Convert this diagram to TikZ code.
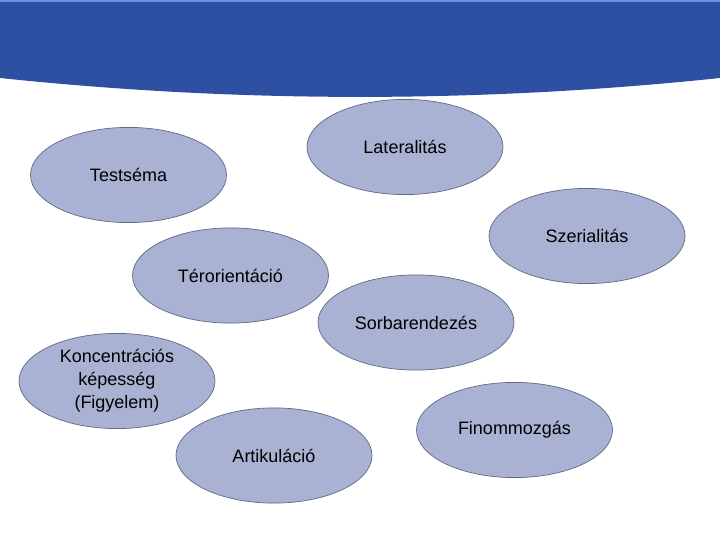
\documentclass[tikz,border=0pt]{standalone}
\usepackage{fontspec}
\setmainfont{Liberation Sans}
\usepackage{xcolor}
\definecolor{bannerblue}{RGB}{46,80,162}
\definecolor{bannerlight}{RGB}{110,145,215}
\definecolor{ovalfill}{RGB}{169,178,210}
\definecolor{ovaledge}{RGB}{95,105,135}
\usetikzlibrary{shapes.geometric}

\begin{document}
\begin{tikzpicture}
	\tikzstyle{skill}=[ellipse, draw=ovaledge, line width=0.5pt, fill=ovalfill, minimum width=4.9cm, minimum height=2.38cm, inner sep=0pt, align=center, font=\fontsize{12.8}{16.3}\selectfont]
	\useasboundingbox (0,0) rectangle (18,13.5);

	% Banner
	\fill[bannerblue] (0,13.5) -- (0,11.55) .. controls (6,10.92) and (12,10.92) .. (18,11.55) -- (18,13.5) -- cycle;
	\fill[bannerlight] (0,13.46) rectangle (18,13.5);

	% Skills
	\node at (10.125, 9.825) [skill] (lateral) {Lateralitás};
	\node at (3.2125, 9.125) [skill] (testsema) {Testséma};
	\node at (14.675, 7.6) [skill] (szerial) {Szerialitás};
	\node at (5.7625, 6.6125) [skill] (terorient) {Térorientáció};
	\node at (10.4, 5.4375) [skill] (sorbaren) {Sorbarendezés};
	\node at (2.925, 3.975) [skill] (koncentr) {Koncentrációs\\képesség\\(Figyelem)};
	\node at (12.8625, 2.75) [skill] (finommozg) {Finommozgás};
	\node at (6.85, 2.1125) [skill] (artikul) {Artikuláció};

\end{tikzpicture}
\end{document}
